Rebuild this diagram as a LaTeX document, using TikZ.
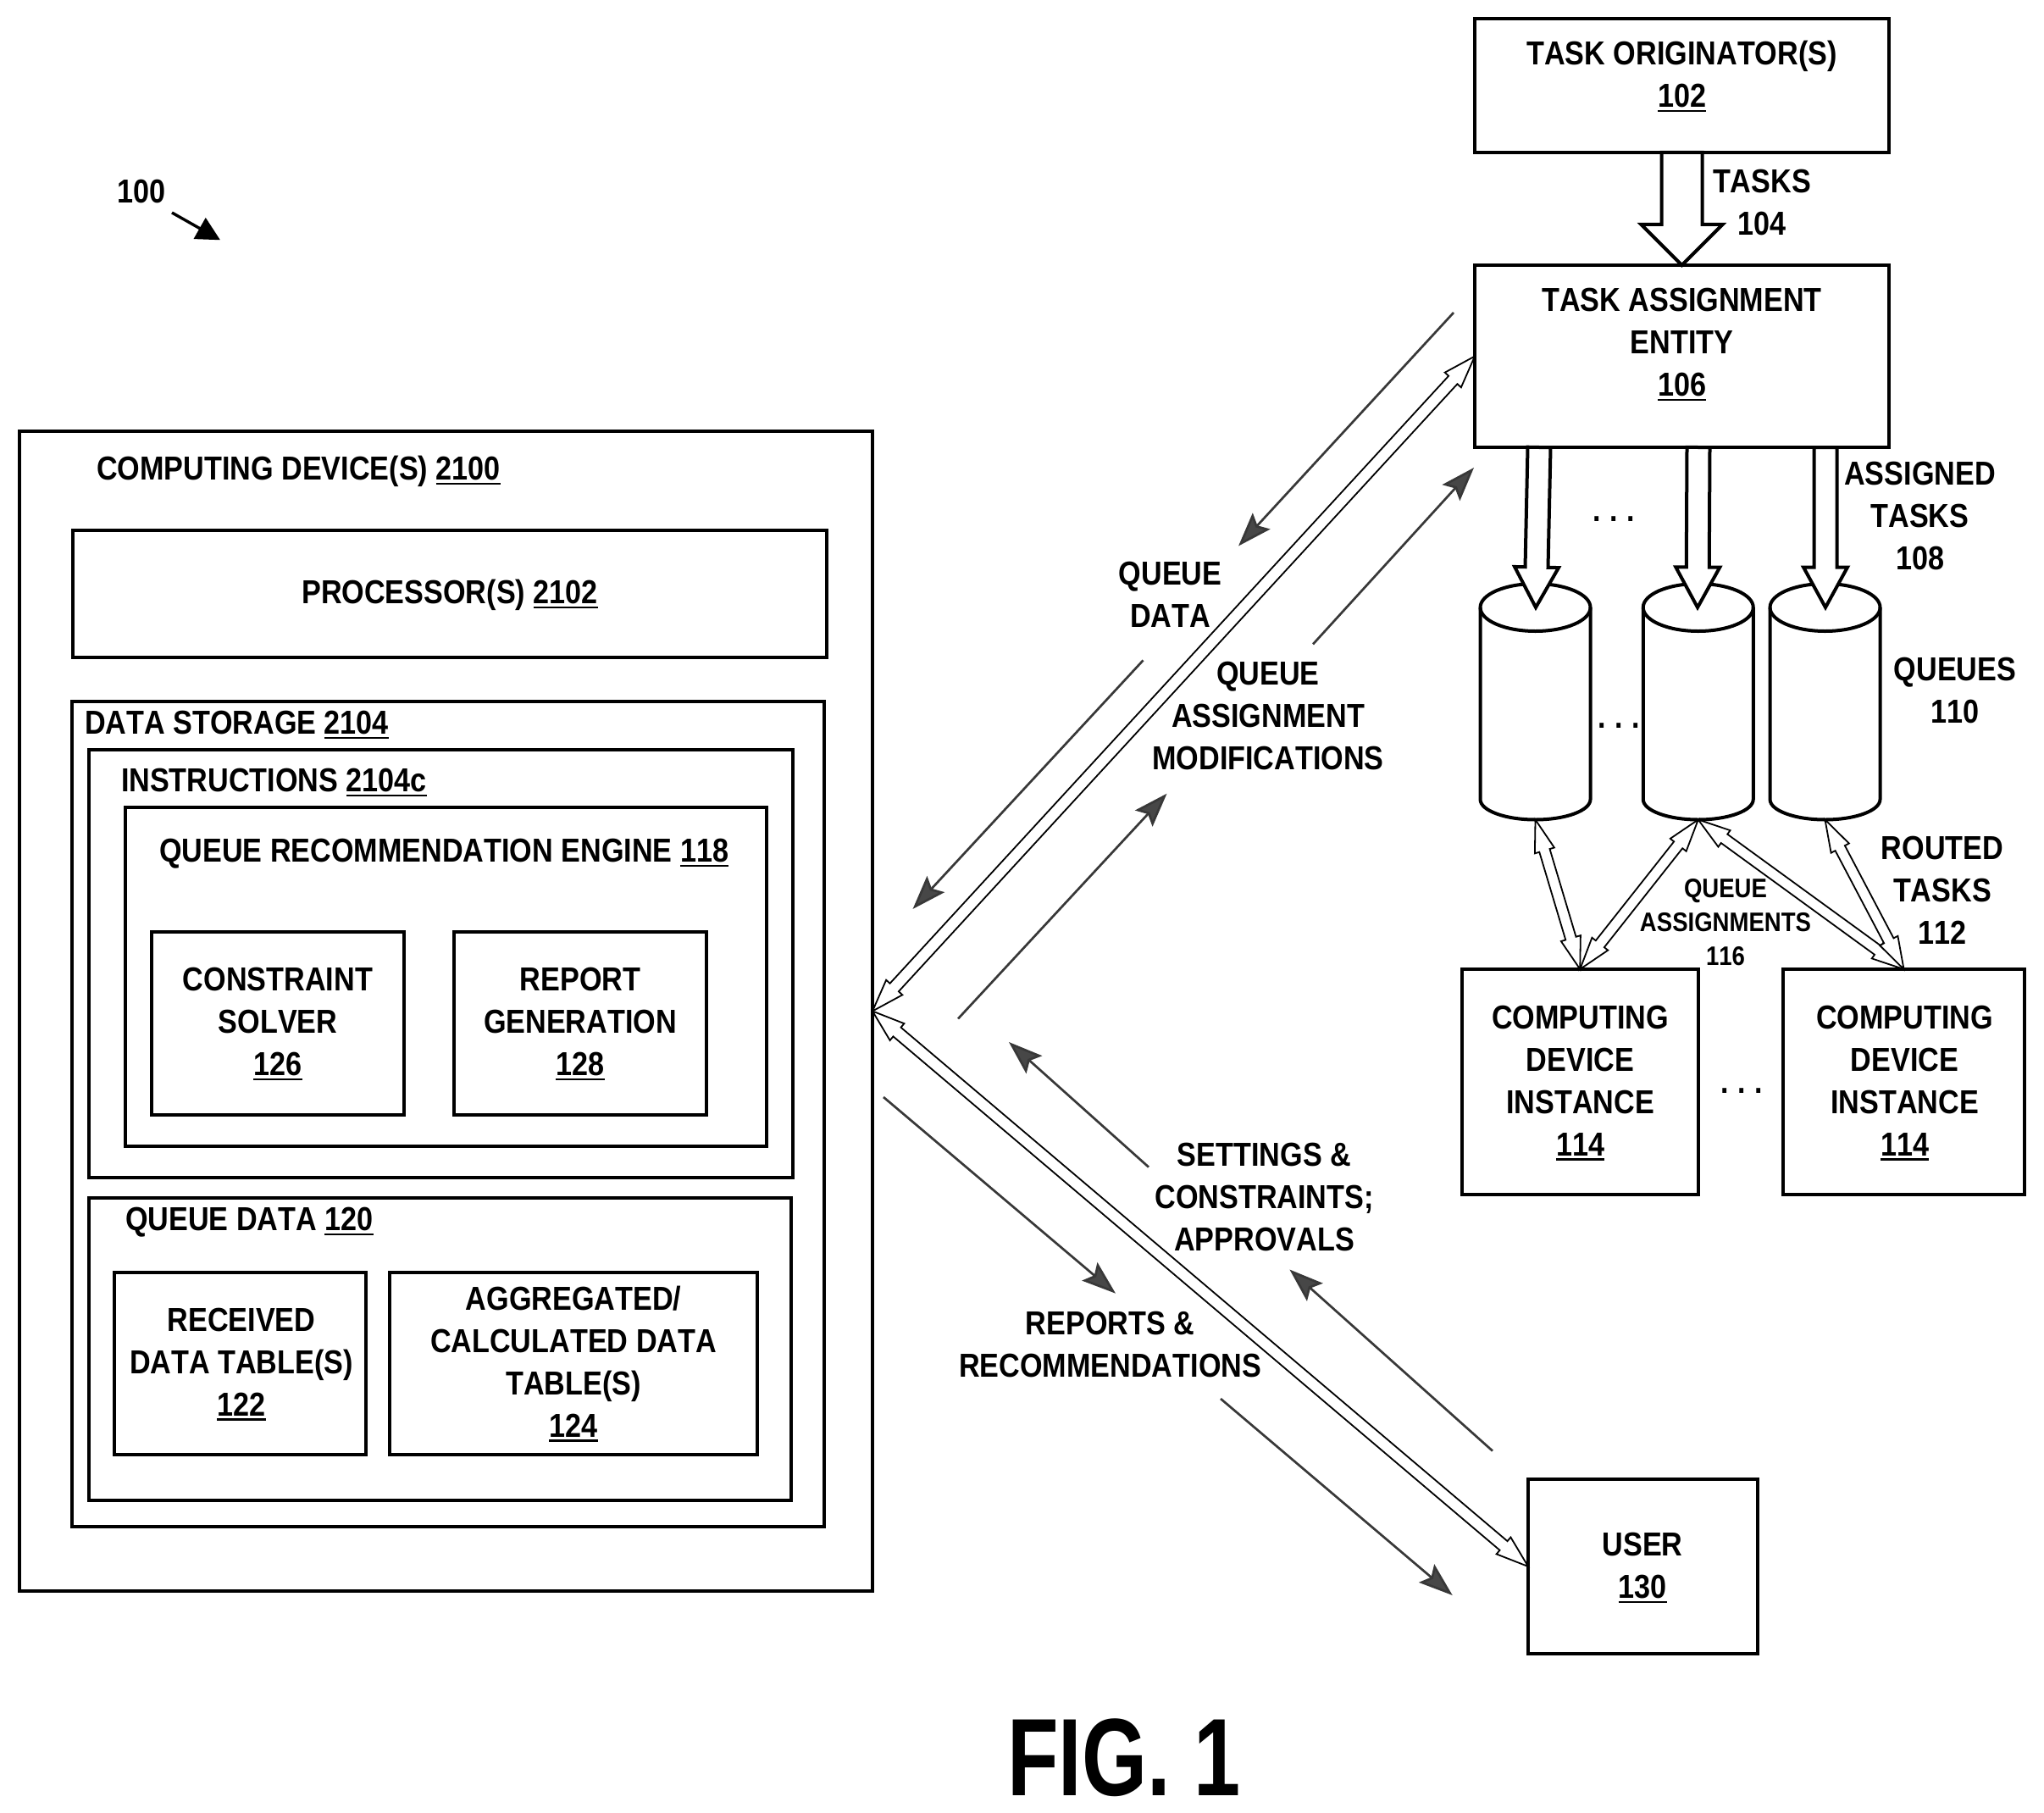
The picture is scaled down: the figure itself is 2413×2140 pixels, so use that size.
\documentclass[tikz,border=0pt]{standalone}
\usepackage{fontspec}
\usetikzlibrary{calc,arrows.meta}
\newfontfamily\bodyf[FakeStretch=0.872,Kerning=Off]{Liberation Sans Bold}
\newfontfamily\figf[FakeStretch=0.762]{Liberation Sans Bold}
\newcommand\st{\rule{0pt}{20pt}}
\newcommand\sts{\rule{0pt}{16pt}}
\newcommand\ul[1]{\leavevmode\vtop{\hbox{#1}\kern1.6pt\hrule height 1.2pt}}
\tikzset{
  bxs/.style={draw=black,line width=2pt,inner sep=0pt,outer sep=0pt,fill=white},
  lbl/.style={inner sep=0pt,outer sep=0pt,anchor=north,align=center,font=\bodyf\fontsize{19.6}{25}\selectfont},
  lbll/.style={lbl,anchor=north west,align=left},
  lbls/.style={inner sep=0pt,outer sep=0pt,anchor=north,align=center,font=\bodyf\fontsize{15.8}{20}\selectfont},
  dotsn/.style={inner sep=0pt,anchor=base,font=\bodyf\fontsize{19.5}{25}\selectfont},
  cylbox/.style={inner sep=0pt,outer sep=0pt,minimum width=65pt,minimum height=139.25pt},
  cylbody/.style={draw=black,line width=2pt,fill=white},
  oline/.style={draw=black,line width=0.9pt,fill=white,line join=miter},
  blk/.style={draw=black,line width=2pt,fill=white,line join=miter},
  thinarrow/.style={draw=black!78,line width=1.35pt,-{Stealth[length=20pt,width=14pt,inset=3.5pt,fill=black!72]}},
  numarrow/.style={draw=black,line width=1.7pt,-{Triangle[length=14pt,width=14pt,fill=black]}},
}
% box from corners, in pixels
\newcommand\bx[6][]{\node[bxs,minimum width={(#5-#3)*0.5pt},minimum height={(#6-#4)*0.5pt},#1] (#2) at ({(#3+#5)/2},{(#4+#6)/2}) {};}
% queue cylinder: name, centre x
\newcommand\qcyl[2]{%
  \node[cylbox] (#1) at (#2,828.25) {};
  \draw[cylbody] ({#2-65},717) -- ({#2-65},943.5) arc[start angle=180,end angle=360,x radius=32.5pt,y radius=12pt]
     -- ({#2+65},717) arc[start angle=0,end angle=180,x radius=32.5pt,y radius=14pt] -- cycle;
  \draw[cylbody,fill=none] ({#2-65},717) arc[start angle=180,end angle=360,x radius=32.5pt,y radius=14pt];}
% open double-headed arrow: from, to, shaft half, head length, head half
\newcommand\dbl[5]{\draw[oline] (#1)
  -- ($($(#1)!#4!(#2)$)!#5!90:(#2)$)
  -- ($($(#1)!#4!(#2)$)!#3!90:(#2)$)
  -- ($($(#2)!#4!(#1)$)!#3!-90:(#1)$)
  -- ($($(#2)!#4!(#1)$)!#5!-90:(#1)$)
  -- (#2)
  -- ($($(#2)!#4!(#1)$)!#5!90:(#1)$)
  -- ($($(#2)!#4!(#1)$)!#3!90:(#1)$)
  -- ($($(#1)!#4!(#2)$)!#3!-90:(#2)$)
  -- ($($(#1)!#4!(#2)$)!#5!-90:(#2)$)
  -- cycle;}
% open single-headed block arrow: from, to, shaft half, head length, head half
\newcommand\sng[5]{\draw[blk] (#2)
  -- ($($(#2)!#4!(#1)$)!#5!90:(#1)$)
  -- ($($(#2)!#4!(#1)$)!#3!90:(#1)$)
  -- ($(#1)!#3!-90:(#2)$)
  -- ($(#1)!#3!90:(#2)$)
  -- ($($(#2)!#4!(#1)$)!#3!-90:(#1)$)
  -- ($($(#2)!#4!(#1)$)!#5!-90:(#1)$)
  -- cycle;}
\begin{document}
\begin{tikzpicture}[x=0.5pt,y=-0.5pt]
\useasboundingbox (0,0) rectangle (2413,2140);
% left nested boxes
\bx{comp}{23}{509}{1030}{1878}
\bx{proc}{86}{626}{976}{776}
\bx{stor}{85}{828}{973}{1802}
\bx{inst}{105}{885}{936}{1390}
\bx{qre}{148}{953}{905}{1353}
\bx{cons}{178.5}{1100}{477}{1316}
\bx{rep}{536}{1100}{834}{1316}
\bx{qd}{105}{1414}{934}{1771}
\bx{recv}{135}{1502}{432}{1717}
\bx{aggr}{460}{1502}{894}{1717}
\node[lbll] (lcomp) at (114,526) {\st COMPUTING DEVICE(S) \ul{2100}};
\node[lbl] (lproc) at (531,672) {\st PROCESSOR(S) \ul{2102}};
\node[lbll] (lstor) at (100,826) {\st DATA STORAGE \ul{2104}};
\node[lbll] (linst) at (143,894) {\st INSTRUCTIONS \ul{2104c}};
\node[lbll] (lqre) at (188,977) {\st QUEUE RECOMMENDATION ENGINE \ul{118}};
\node[lbl] (lcons) at (328,1129) {\st CONSTRAINT\\SOLVER\\\ul{126}};
\node[lbl] (lrep) at (685,1129) {\st REPORT\\GENERATION\\\ul{128}};
\node[lbll] (lqd) at (148,1412) {\st QUEUE DATA \ul{120}};
\node[lbl] (lrecv) at (285,1531) {\st RECEIVED\\DATA TABLE(S)\\\ul{122}};
\node[lbl] (laggr) at (677,1506) {\st AGGREGATED/\\CALCULATED DATA\\TABLE(S)\\\ul{124}};
% right boxes
\bx{b102}{1741}{22}{2230}{180}
\bx{b106}{1741}{313}{2230}{528}
\bx{d1}{1726}{1144}{2004.5}{1410}
\bx{d2}{2105}{1144}{2390}{1410}
\bx{user}{1804}{1746}{2075}{1952}
\node[lbl] (l102) at (1985.5,36.5) {\st TASK ORIGINATOR(S)\\\ul{102}};
\node[lbl] (l104) at (2080,188) {\st TASKS\\104};
\node[lbl] (l106) at (1985.5,327.5) {\st TASK ASSIGNMENT\\ENTITY\\\ul{106}};
\node[lbl] (l108) at (2266.5,532) {\st ASSIGNED\\TASKS\\108};
\node[lbl] (l110) at (2308,763) {\st QUEUES\\110};
\node[lbl] (l112) at (2293,974) {\st ROUTED\\TASKS\\112};
\node[lbls] (l116) at (2037,1027.5) {\sts QUEUE\\ASSIGNMENTS\\116};
\node[lbl] (l114a) at (1865.5,1174) {\st COMPUTING\\DEVICE\\INSTANCE\\\ul{114}};
\node[lbl] (l114b) at (2248.6,1174) {\st COMPUTING\\DEVICE\\INSTANCE\\\ul{114}};
\node[lbl] (l130) at (1939,1796) {\st USER\\\ul{130}};
% queues
\qcyl{q1}{1812.5}
\qcyl{q2}{2004.75}
\qcyl{q3}{2154.5}
\node[dotsn] (dq1) at (1905.5,615) {.\hskip5.2pt.\hskip5.2pt.};
\node[dotsn] (dq2) at (1911,859) {.\hskip5.2pt.\hskip5.2pt.};
\node[dotsn] (dq3) at (2056,1290) {.\hskip5.2pt.\hskip5.2pt.};
% block arrows
\sng{b102.south}{b106.north}{12pt}{24pt}{24pt}
\coordinate (a1) at (1817,528); \coordinate (a1t) at (1813,717);
\coordinate (a2) at (2005,528); \coordinate (a2t) at (2004,717);
\coordinate (a3) at (2155,528); \coordinate (a3t) at (2155,717);
\sng{a1}{a1t}{6.75pt}{23.75pt}{13pt}
\sng{a2}{a2t}{6.75pt}{23.75pt}{13pt}
\sng{a3}{a3t}{6.75pt}{23.75pt}{13pt}
% routed tasks and queue assignments
\dbl{q1.south}{d1.north}{3.2pt}{19pt}{6pt}
\dbl{q2.south}{d1.north}{3.2pt}{19pt}{6pt}
\dbl{q2.south}{d2.north}{3.2pt}{19pt}{6pt}
\dbl{q3.south}{d2.north}{3.2pt}{19pt}{6pt}
% long arrows
\dbl{comp.east}{b106.west}{3.5pt}{19pt}{6.5pt}
\dbl{comp.east}{user.west}{3.5pt}{19pt}{6.5pt}
% queue data
\coordinate (qa) at (1716,369); \coordinate (qb) at (1462,644.5);
\coordinate (qc) at (1349.5,779.4); \coordinate (qd0) at (1077.5,1073);
\draw[thinarrow] (qa) -- (qb);
\draw[thinarrow] (qc) -- (qd0);
\node[lbl] (lqdata) at (1381.6,650.7) {\st QUEUE\\DATA};
% queue assignment modifications
\coordinate (ma) at (1131,1202.5); \coordinate (mb) at (1377.5,936.7);
\coordinate (mc) at (1550,760.4); \coordinate (md) at (1740,552);
\draw[thinarrow] (ma) -- (mb);
\draw[thinarrow] (mc) -- (md);
\node[lbl] (lmods) at (1497,768) {\st QUEUE\\ASSIGNMENT\\MODIFICATIONS};
% settings
\coordinate (sa) at (1356,1377.6); \coordinate (sb) at (1191,1230);
\coordinate (sc) at (1762,1712.6); \coordinate (sd) at (1522.4,1498.5);
\draw[thinarrow] (sa) -- (sb);
\draw[thinarrow] (sc) -- (sd);
\node[lbl] (lset) at (1492.5,1336) {\st SETTINGS \&\\CONSTRAINTS;\\APPROVALS};
% reports
\coordinate (ra) at (1043,1295); \coordinate (rb) at (1317,1526.7);
\coordinate (rc) at (1441,1651); \coordinate (rd) at (1714.7,1883);
\draw[thinarrow] (ra) -- (rb);
\draw[thinarrow] (rc) -- (rd);
\node[lbl] (lrepo) at (1310.6,1535.6) {\st REPORTS \&\\RECOMMENDATIONS};
% reference numeral and title
\node[lbl] (l100) at (167,200) {\st 100};
\coordinate (n1) at (203,251); \coordinate (n2) at (260,283.3);
\draw[numarrow] (n1) -- (n2);
\node[inner sep=0pt,anchor=base,font=\figf\fontsize{65}{70}\selectfont] (fig) at (1327,2119) {FIG. 1};
\end{tikzpicture}
\end{document}
